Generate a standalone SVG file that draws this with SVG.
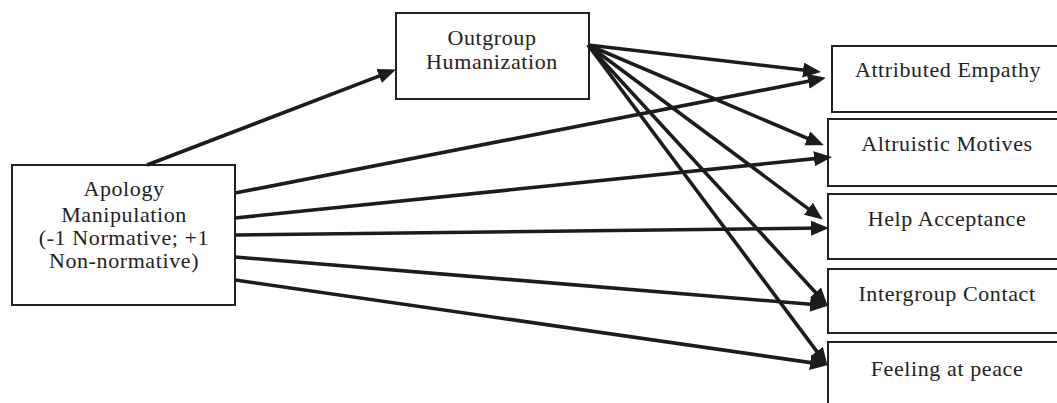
<svg xmlns="http://www.w3.org/2000/svg" width="1057" height="403" viewBox="0 0 1057 403">
<style>
.box{fill:#fff;stroke:#222;stroke-width:2}
.t{font-family:"Liberation Serif","Times New Roman",serif;font-size:22px;fill:#222;text-anchor:middle;letter-spacing:0.6px}
.c{stroke:#1c1c1c;stroke-width:3.6;fill:none;marker-end:url(#ah)}
</style>
<defs>
<marker id="ah" markerUnits="userSpaceOnUse" markerWidth="19" markerHeight="16" refX="13" refY="7.5" orient="auto">
<path d="M0,0 L18,7.5 L0,15 z" fill="#1c1c1c"/>
</marker>
</defs>
<rect width="1057" height="403" fill="#fff"/>
<g id="n-apology">
<rect class="box" x="12" y="165" width="223" height="140"/>
<text class="t" x="124" y="196">Apology</text>
<text class="t" x="124" y="222">Manipulation</text>
<text class="t" x="124" y="245">(-1 Normative; +1</text>
<text class="t" x="124" y="268">Non-normative)</text>
</g>
<g id="n-outgroup">
<rect class="box" x="396" y="13" width="193" height="86"/>
<text class="t" x="492" y="45">Outgroup</text>
<text class="t" x="492" y="69">Humanization</text>
</g>
<g id="n-empathy">
<rect class="box" x="832" y="46" width="230" height="66"/>
<text class="t" x="948" y="77">Attributed Empathy</text>
</g>
<g id="n-altruistic">
<rect class="box" x="828" y="119" width="234" height="67"/>
<text class="t" x="947" y="151">Altruistic Motives</text>
</g>
<g id="n-help">
<rect class="box" x="828" y="194" width="234" height="65"/>
<text class="t" x="947" y="226">Help Acceptance</text>
</g>
<g id="n-contact">
<rect class="box" x="828" y="269" width="234" height="64"/>
<text class="t" x="947" y="301">Intergroup Contact</text>
</g>
<g id="n-peace">
<rect class="box" x="828" y="342" width="234" height="70"/>
<text class="t" x="947" y="376">Feeling at peace</text>
</g>
<g id="connectors">
<line class="c" x1="147" y1="165" x2="391.3" y2="71.4"/>
<line class="c" x1="588" y1="45" x2="816" y2="71.5"/>
<line class="c" x1="588" y1="45" x2="819.3" y2="143.4"/>
<line class="c" x1="588" y1="45" x2="818.8" y2="216.6"/>
<line class="c" x1="588" y1="45" x2="824.3" y2="302"/>
<line class="c" x1="588" y1="45" x2="824.6" y2="361.8"/>
<line class="c" x1="235" y1="193" x2="821" y2="78.8"/>
<line class="c" x1="235" y1="218" x2="827" y2="157.4"/>
<line class="c" x1="235" y1="235" x2="824" y2="228"/>
<line class="c" x1="235" y1="257" x2="823" y2="305.3"/>
<line class="c" x1="235" y1="280" x2="823" y2="364.4"/>
</g>
</svg>
